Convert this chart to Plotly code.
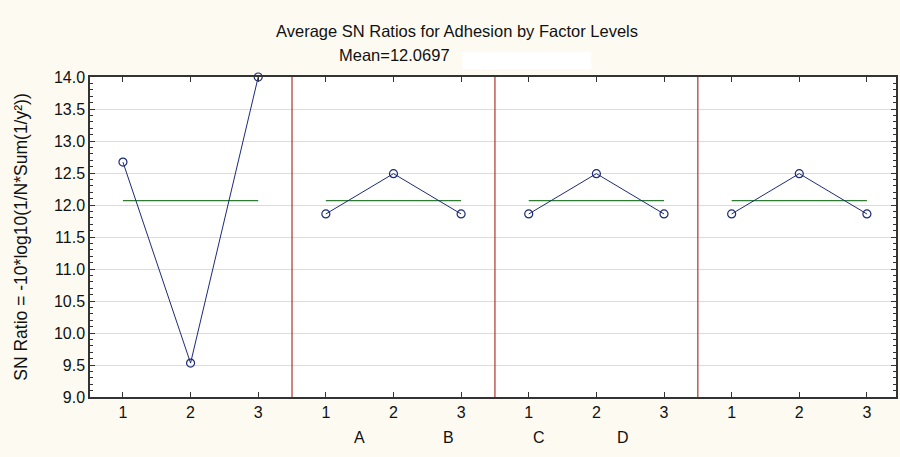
import plotly.graph_objects as go

factors = ["A", "B", "C", "D"]
levels = ["1", "2", "3"]
sn_A = [12.67, 9.53, 14.00]
sn_B = [11.86, 12.49, 11.86]
sn_C = [11.86, 12.49, 11.86]
sn_D = [11.86, 12.49, 11.86]
overall_mean = 12.0697
y_ticks = [9.0, 9.5, 10.0, 10.5, 11.0, 11.5, 12.0, 12.5, 13.0, 13.5, 14.0]

series = [sn_A, sn_B, sn_C, sn_D]
nlev = len(levels)

fig = go.Figure()
tickvals, ticktext = [], []
shapes = []
for i, vals in enumerate(series):
    xs = [i * nlev + k + 1 for k in range(nlev)]
    tickvals += xs
    ticktext += levels
    fig.add_trace(go.Scatter(
        x=[xs[0], xs[-1]], y=[overall_mean, overall_mean], mode="lines",
        line=dict(color="#2e7d32", width=1.3), showlegend=False))
    fig.add_trace(go.Scatter(
        x=xs, y=vals, mode="lines+markers",
        line=dict(color="#1c2a78", width=1),
        marker=dict(symbol="circle-open", size=8, color="#1c2a78", line=dict(width=1.2)),
        cliponaxis=False, showlegend=False))
    if i > 0:
        sep = i * nlev + 0.5
        shapes.append(dict(type="line", xref="x", yref="paper", x0=sep, x1=sep, y0=0, y1=1,
                           line=dict(color="#b0443a", width=1.3)))

# white masking box after the mean text
shapes.append(dict(type="rect", xref="paper", yref="paper", x0=0.462, x1=0.622, y0=1.025, y1=1.078,
                   fillcolor="white", line=dict(width=0), layer="above"))

annotations = [
    dict(text="Average SN Ratios for Adhesion by Factor Levels", xref="paper", yref="paper",
         x=0.455, y=1.143, showarrow=False, font=dict(size=16.5, color="#111"), xanchor="center", yanchor="middle"),
    dict(text="Mean=12.0697", xref="paper", yref="paper",
         x=0.307, y=1.068, showarrow=False, font=dict(size=16.5, color="#111"), xanchor="left", yanchor="middle"),
]
label_x = [0.334, 0.445, 0.557, 0.671]
for f, lx in zip(factors, label_x):
    annotations.append(dict(text=f, xref="paper", yref="paper", x=lx, y=-0.125,
                            showarrow=False, font=dict(size=16, color="#111"), yanchor="middle"))

n_pos = len(series) * nlev
fig.update_layout(
    width=900, height=457,
    margin=dict(l=90, r=2, t=77, b=60),
    paper_bgcolor="#fdfbf1", plot_bgcolor="white",
    font=dict(family="Liberation Sans, Arial, sans-serif", size=15, color="#111"),
    shapes=shapes, annotations=annotations,
    xaxis=dict(range=[0.513, n_pos + 0.43], tickvals=tickvals, ticktext=ticktext,
               showgrid=False, zeroline=False, showline=True, linecolor="#333", linewidth=1.5,
               mirror="ticks", ticks="inside", ticklen=5, tickcolor="#333", tickfont=dict(size=16)),
    yaxis=dict(range=[9.0, 14.0], tickvals=y_ticks, ticktext=[f"{v:.1f}" for v in y_ticks],
               showgrid=True, gridcolor="#dcdcdc", gridwidth=1, zeroline=False,
               showline=True, linecolor="#333", linewidth=1.5, mirror="ticks",
               ticks="inside", ticklen=5, tickcolor="#333", tickfont=dict(size=16),
               minor=dict(dtick=0.1, ticks="inside", ticklen=3, tickcolor="#333", showgrid=False),
               title=dict(text="SN Ratio = -10*log10(1/N*Sum(1/y²))", font=dict(size=17.5), standoff=22)),
)

fig.write_html("out.html", config={"displayModeBar": False},
               post_script="document.body.style.margin='0';document.body.style.overflow='hidden';")
